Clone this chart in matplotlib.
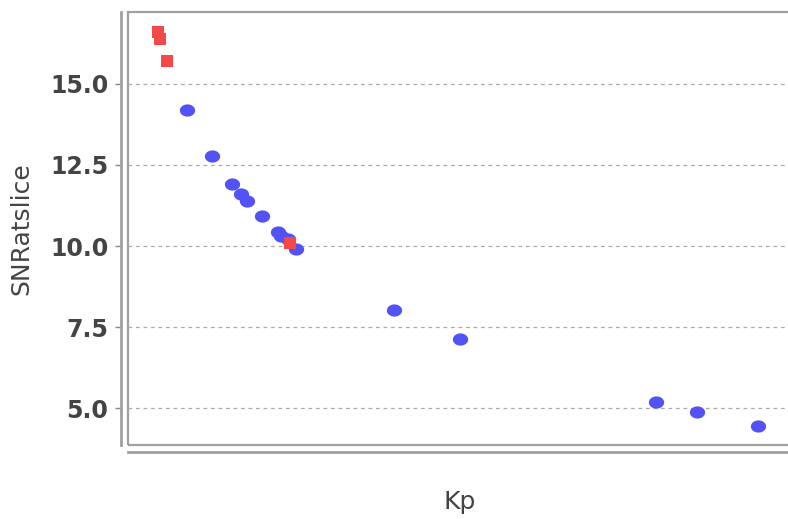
import matplotlib
matplotlib.use("Agg")
from matplotlib import pyplot as plt
from matplotlib.patches import Rectangle
from matplotlib.path import Path
import numpy as np

# red squares
kpRed = [3.0, 3.2, 3.9, 16.3]
snrRed = [16.60, 16.39, 15.71, 10.09]
# blue circles
kpBlue = [5.9, 8.4, 10.4, 11.3, 11.9, 13.4, 15.0, 15.3, 16.0, 16.9, 26.7, 33.3, 53.0, 57.1, 63.2]
snrBlue = [14.20, 12.78, 11.91, 11.60, 11.39, 10.93, 10.43, 10.31, 10.22, 9.91, 8.02, 7.13, 5.19, 4.88, 4.44]
yticks = [5.0, 7.5, 10.0, 12.5, 15.0]

# slightly wide dot, like the reference
t = np.linspace(0, 2*np.pi, 40)
ellipse = Path(np.column_stack([np.cos(t), 0.8*np.sin(t)]), closed=True)

fig = plt.figure(figsize=(7.88, 5.19), dpi=100)
ax = fig.add_axes([128/788, 1-445/519, 1.005-128/788, 433/519])

ax.plot(kpBlue, snrBlue, linestyle="none", marker=ellipse, markersize=11, color="#5252f7", markeredgewidth=0)
ax.plot(kpRed, snrRed, linestyle="none", marker="s", markersize=8, color="#f54848", markeredgewidth=0)

ax.set_xlim(0, 66.6)
ax.set_ylim(3.86, 17.22)
ax.set_yticks(yticks)
ax.set_yticklabels(["{:.1f}".format(v) for v in yticks])
ax.set_xticks([])
ax.yaxis.grid(True, linestyle=(0, (3, 3)), color="#aaaaaa", linewidth=0.9)
ax.set_axisbelow(True)

for s in ["top", "right"]:
    ax.spines[s].set_visible(False)
for s in ["left", "bottom"]:
    ax.spines[s].set_position(("outward", 5))
    ax.spines[s].set_color("#a0a0a0")
    ax.spines[s].set_linewidth(2)
ax.add_patch(Rectangle((0, 0), 1, 1, transform=ax.transAxes, fill=False,
                       edgecolor="#a0a0a0", linewidth=1.6, clip_on=False, zorder=0.5))

ax.tick_params(axis="y", length=4, width=1, color="#888888", labelsize=17, labelcolor="#444444", pad=5)
plt.setp(ax.get_yticklabels(), fontweight="bold")

ax.set_xlabel("Kp", fontsize=18, color="#444444")
ax.xaxis.set_label_coords(0.5, -0.103)
ax.set_ylabel("SNRatslice", fontsize=18, color="#444444")
ax.yaxis.set_label_coords(-0.143, 0.5)

fig.savefig("out.png", dpi=100)
